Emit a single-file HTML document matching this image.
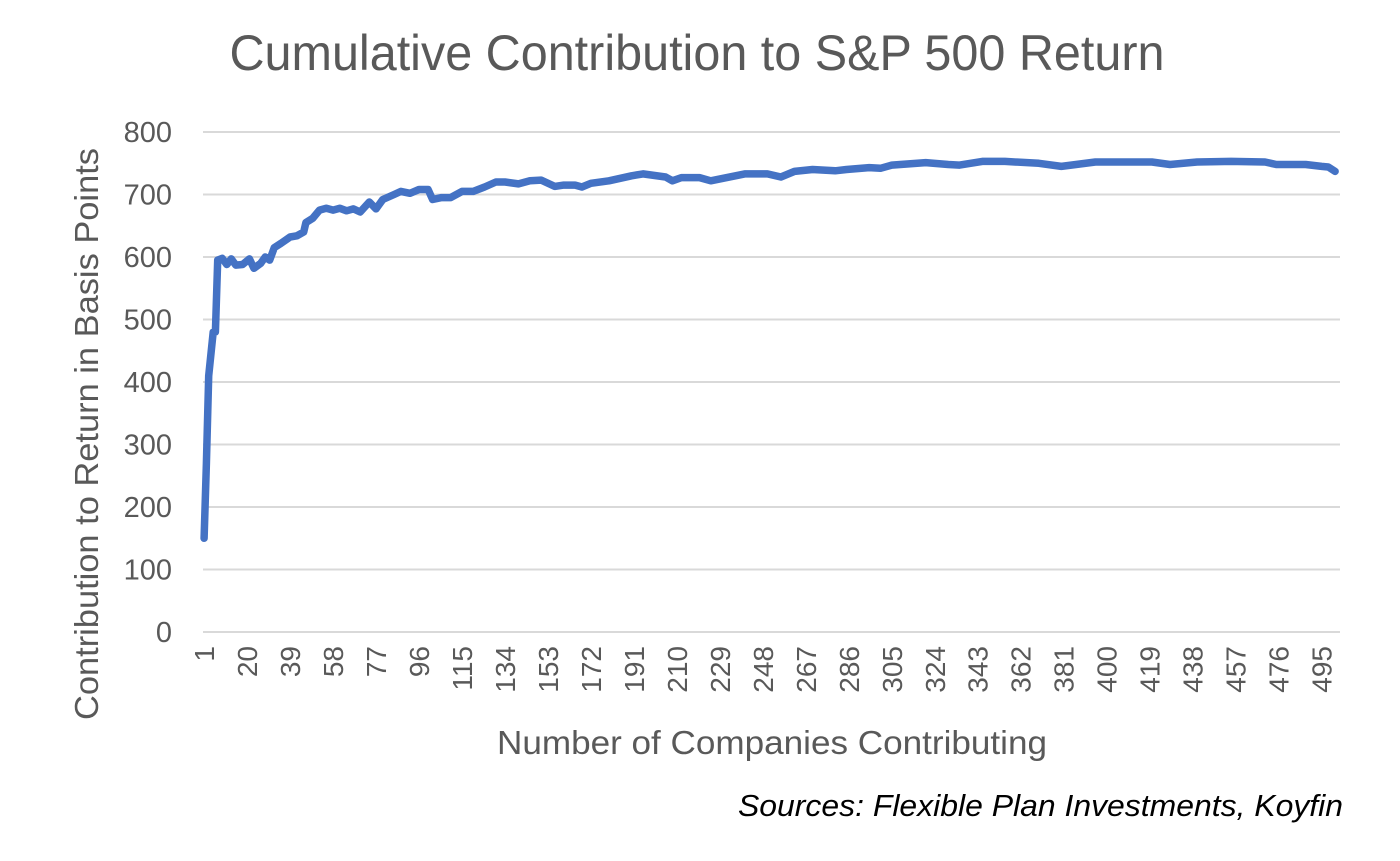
<!DOCTYPE html>
<html><head><meta charset="utf-8">
<style>
html,body{margin:0;padding:0;background:#fff;}
svg{display:block;}
text{font-family:"Liberation Sans","DejaVu Sans",sans-serif;}
</style></head>
<body>
<svg id="c" width="1400" height="861" viewBox="0 0 1400 861" xmlns="http://www.w3.org/2000/svg">
<rect width="1400" height="861" fill="#fff"/>
<text x="697" y="70" font-size="50" fill="#595959" text-anchor="middle" textLength="935" lengthAdjust="spacingAndGlyphs">Cumulative Contribution to S&amp;P 500 Return</text>
<g id="grid" stroke="#d9d9d9" stroke-width="2"></g>
<g id="ylab" font-size="29" fill="#595959" text-anchor="end"></g>
<g id="xlab" font-size="28" fill="#595959"></g>
<text transform="translate(98,434) rotate(-90)" font-size="33" fill="#595959" text-anchor="middle" textLength="572" lengthAdjust="spacingAndGlyphs">Contribution to Return in Basis Points</text>
<text x="772" y="754" font-size="33" fill="#595959" text-anchor="middle" textLength="550" lengthAdjust="spacingAndGlyphs">Number of Companies Contributing</text>
<text x="1343" y="816" font-size="31" fill="#000" font-style="italic" text-anchor="end" textLength="605" lengthAdjust="spacingAndGlyphs">Sources: Flexible Plan Investments, Koyfin</text>
<path id="line" fill="none" stroke="#4472C4" stroke-width="7.5" stroke-linejoin="round" stroke-linecap="round"/>
</svg>
<script>
var NS="http://www.w3.org/2000/svg";
function Y(v){return 632-v*0.625;}
function X(i){return 203+(i-0.5)*2.262;}
var g=document.getElementById('grid'),yl=document.getElementById('ylab'),xl=document.getElementById('xlab');
for(var v=0;v<=800;v+=100){
 var l=document.createElementNS(NS,'line');l.setAttribute('x1',203);l.setAttribute('x2',1340);
 l.setAttribute('y1',Y(v));l.setAttribute('y2',Y(v));g.appendChild(l);
 var t=document.createElementNS(NS,'text');t.setAttribute('x',172);t.setAttribute('y',Y(v)+10);t.textContent=v;yl.appendChild(t);
}
for(var i=1;i<=495;i+=19){
 var t=document.createElementNS(NS,'text');var x=X(i)+10;
 t.setAttribute('transform','translate('+x+',646) rotate(-90)');t.setAttribute('text-anchor','end');t.textContent=i;xl.appendChild(t);
}
var d=[[1,150],[2,270],[3,410],[5,480],[6,480],[7,595],[9,598],[11,588],[13,597],[15,587],[18,588],[21,597],[23,582],[26,590],[28,600],[30,595],[32,615],[35,622],[39,632],[42,634],[45,640],[46,655],[49,662],[52,675],[55,678],[58,675],[61,678],[64,674],[67,677],[70,672],[74,688],[77,677],[80,692],[85,700],[88,705],[92,702],[96,708],[100,708],[102,692],[106,695],[110,695],[115,705],[120,705],[125,712],[130,720],[134,720],[140,717],[145,722],[150,723],[156,713],[160,715],[165,715],[168,712],[172,718],[180,722],[190,730],[195,733],[205,728],[208,722],[212,727],[220,727],[225,722],[240,733],[250,733],[256,728],[262,737],[270,740],[280,738],[285,740],[295,743],[300,742],[305,747],[320,751],[330,748],[335,747],[345,753],[355,753],[370,750],[380,745],[395,752],[420,752],[428,748],[440,752],[455,753],[470,752],[475,748],[488,748],[495,745],[498,744],[501,737]];
var p='';d.forEach(function(q,k){p+=(k?'L':'M')+X(q[0]).toFixed(1)+' '+Y(q[1]).toFixed(1);});
document.getElementById('line').setAttribute('d',p);
</script>
</body></html>
